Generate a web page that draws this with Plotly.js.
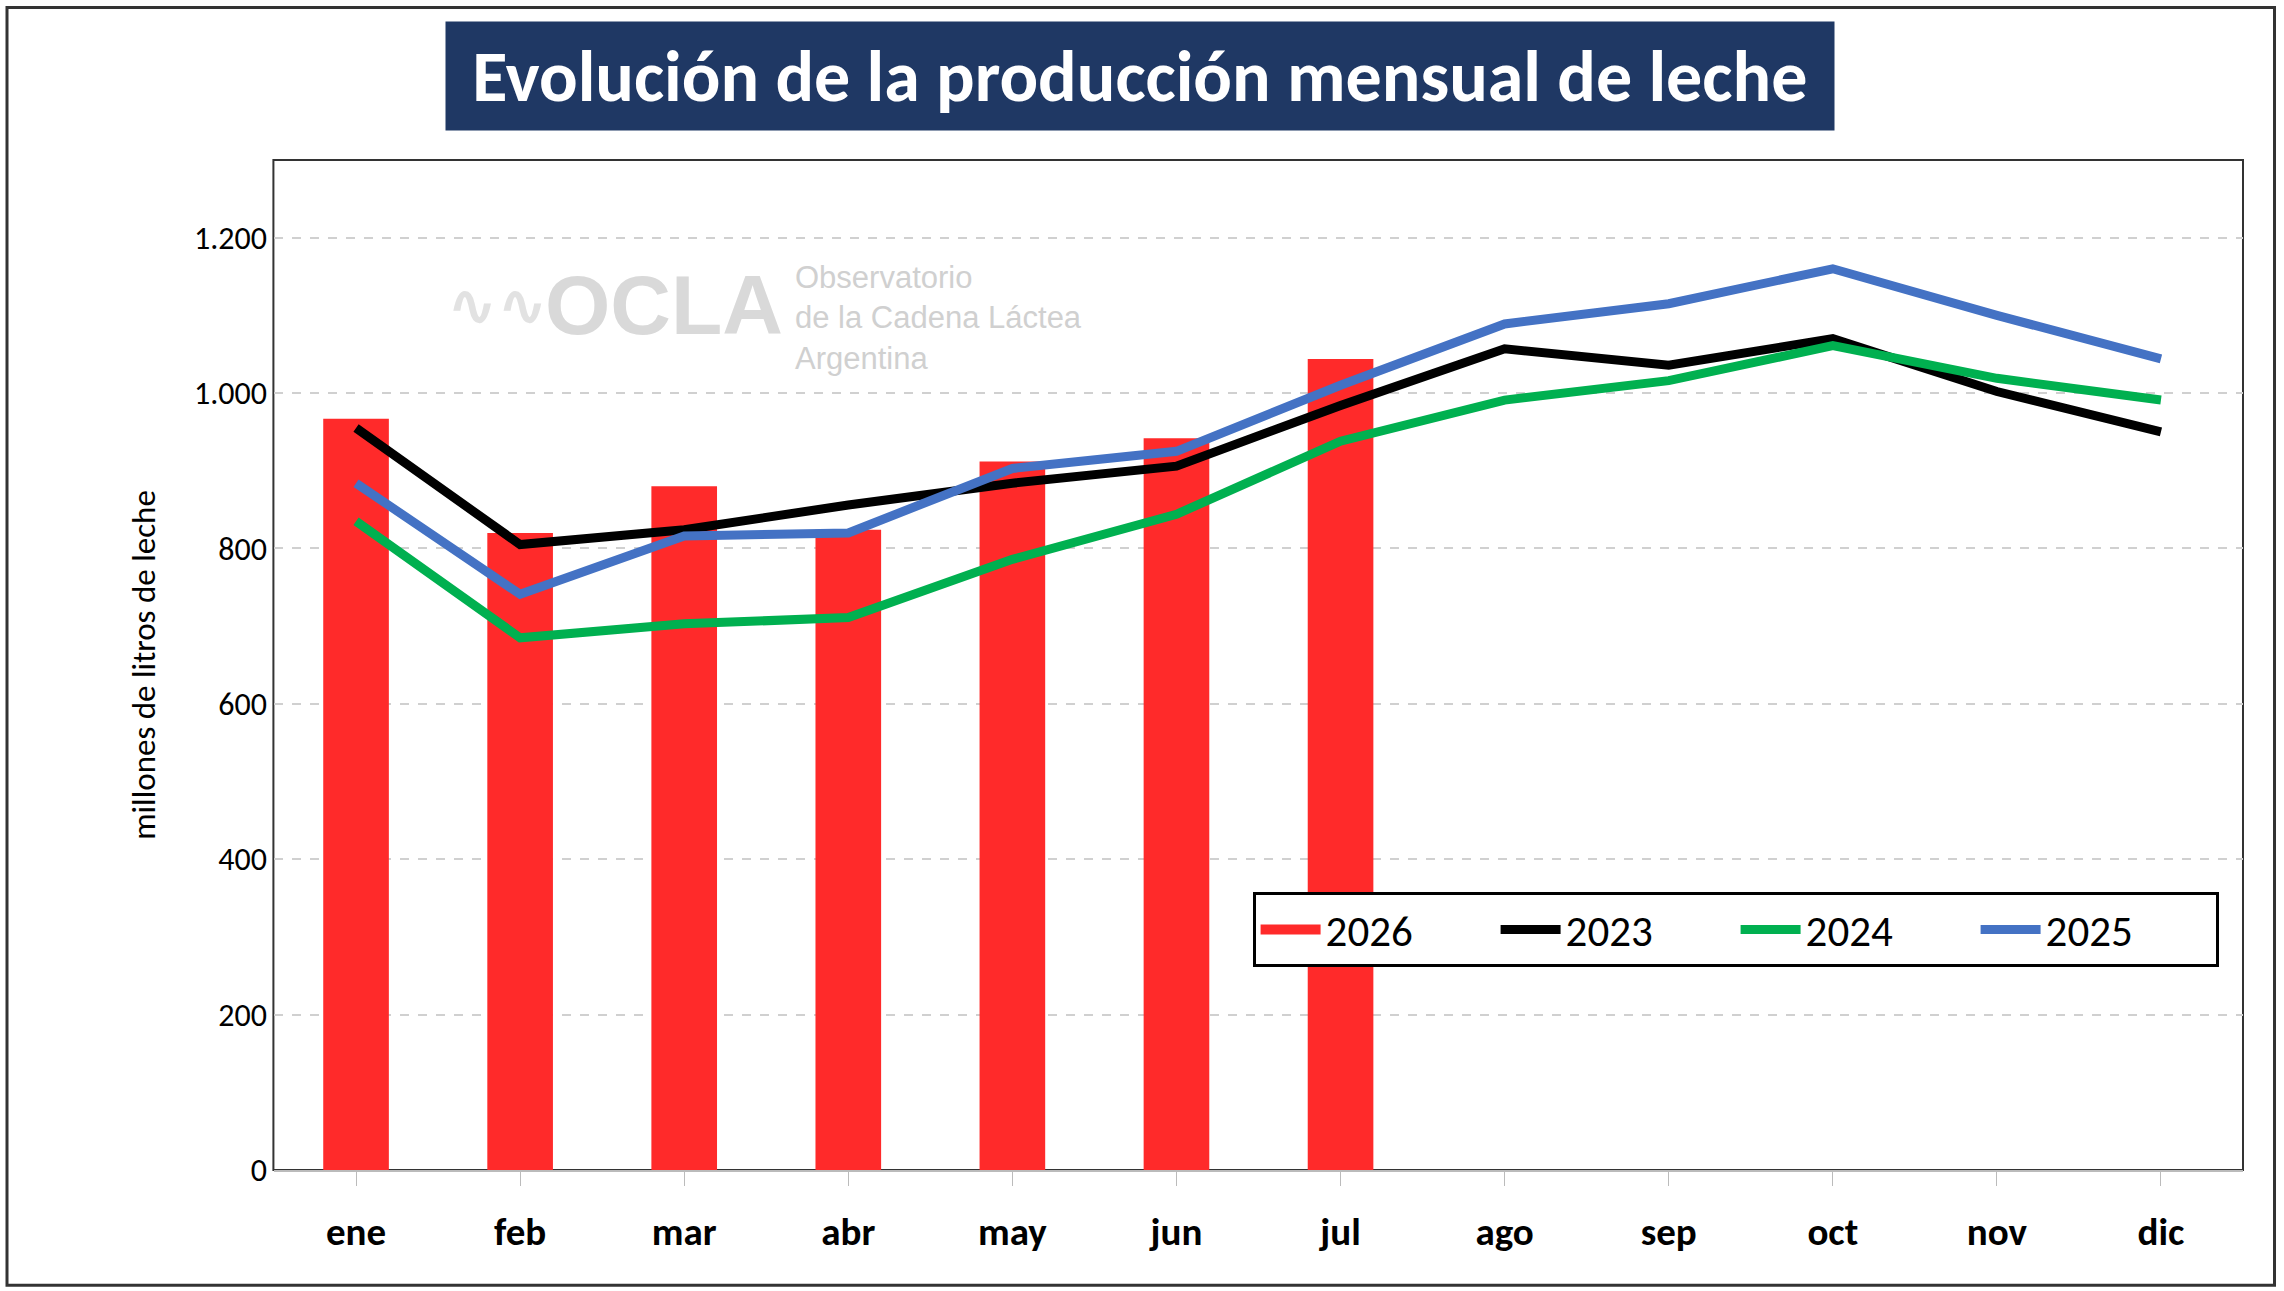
<!DOCTYPE html>
<html><head><meta charset="utf-8">
<script src="https://cdn.plot.ly/plotly-3.0.1.min.js"></script>
<style>body{margin:0;background:#fff}#c{width:2284px;height:1291px}</style>
</head><body><div id="c"></div>
<script>
const months = ["ene","feb","mar","abr","may","jun","jul","ago","sep","oct","nov","dic"];
const y2026 = [967,820,880,824,912,942,1044];
const y2023 = [955,805,824,856,884,906,984,1057,1036,1070,1002,950];
const y2024 = [835,685,703,711,786,844,938,991,1016,1061,1019,991];
const y2025 = [884,741,816,820,903,925,1010,1089,1115,1160,1100,1044];
const yTicks = [0,200,400,600,800,1000,1200];
const yTickText = ["0","200","400","600","800","1.000","1.200"];

const ln = (y,name,color)=>({type:'scatter',mode:'lines',x:months,y:y,name:name,line:{color:color,width:9}});
const data = [
 {type:'bar',x:months.slice(0,7),y:y2026,name:'2026',marker:{color:'#ff2a2a'},width:0.4,showlegend:false},
 {type:'scatter',mode:'lines',x:[null],y:[null],name:'2026',line:{color:'#ff2a2a',width:26}},
 ln(y2023,'2023','#000000'), ln(y2024,'2024','#00b050'), ln(y2025,'2025','#4472c4')
];
const layout = {
 width:2284,height:1291,paper_bgcolor:'#fff',plot_bgcolor:'#fff',
 margin:{l:274,r:41,t:160,b:121,autoexpand:false},
 font:{family:'Carlito, Calibri, "Liberation Sans", sans-serif',color:'#000'},
 xaxis:{type:'category',categoryorder:'array',categoryarray:months,range:[-0.5,11.5],
   tickfont:{size:39,family:'Carlito, "Liberation Sans", sans-serif',weight:'bold'},ticks:'outside',ticklen:14,tickcolor:'#bbb',
   showline:true,linecolor:'#bbb',linewidth:2,ticklabelstandoff:12},
 yaxis:{range:[0,1300],tickvals:yTicks,ticktext:yTickText,tickfont:{size:32},
   gridcolor:'#d0d0d0',griddash:'dash',gridwidth:2,zeroline:false,ticklabelstandoff:6,
   title:{text:'millones de litros de leche',font:{size:33},standoff:28}},
 showlegend:true,
 legend:{orientation:'h',x:0.497,y:0.238,xanchor:'left',yanchor:'middle',bgcolor:'#fff',bordercolor:'#000',borderwidth:3,
   font:{size:43},entrywidth:165,traceorder:'normal',itemwidth:60},
 shapes:[
  {type:'rect',xref:'paper',yref:'paper',x0:-0.1356,x1:1.016,y0:-0.114,y1:1.151,line:{color:'#333',width:3},layer:'below'},
  {type:'rect',xref:'paper',yref:'paper',x0:-0.0003,x1:1,y0:0,y1:1,line:{color:'#333',width:2},layer:'below'}
 ],
 annotations:[
  {xref:'paper',yref:'paper',x:(1140-274)/1969,y:1+(160-76)/1010,text:'<b> Evolución de la producción mensual de leche </b>',
   showarrow:false,font:{size:72,color:'#fff',family:'Carlito, "Open Sans", sans-serif'},bgcolor:'#1f3864',borderpad:10,xanchor:'center',yanchor:'middle'},
  {xref:'paper',yref:'paper',x:(785-274)/1969,y:(1170-305)/1010,text:'<b>OCLA</b>',showarrow:false,
   font:{size:84,color:'#d9d9d9',family:'"Liberation Sans", sans-serif'},xanchor:'right',yanchor:'middle'},
  {xref:'paper',yref:'paper',x:(445-274)/1969,y:(1170-305)/1010,text:'<b>∿∿</b>',showarrow:false,
   font:{size:60,color:'#e2e2e2',family:'"DejaVu Sans", sans-serif'},xanchor:'left',yanchor:'middle'},
  {xref:'paper',yref:'paper',x:(793-274)/1969,y:(1170-318)/1010,text:'Observatorio<br>de la Cadena Láctea<br>Argentina',showarrow:false,align:'left',
   font:{size:31,color:'#d0d0d0',family:'"Liberation Sans", sans-serif'},xanchor:'left',yanchor:'middle'}
 ]
};
Plotly.newPlot('c',data,layout,{displayModeBar:false});
</script></body></html>
